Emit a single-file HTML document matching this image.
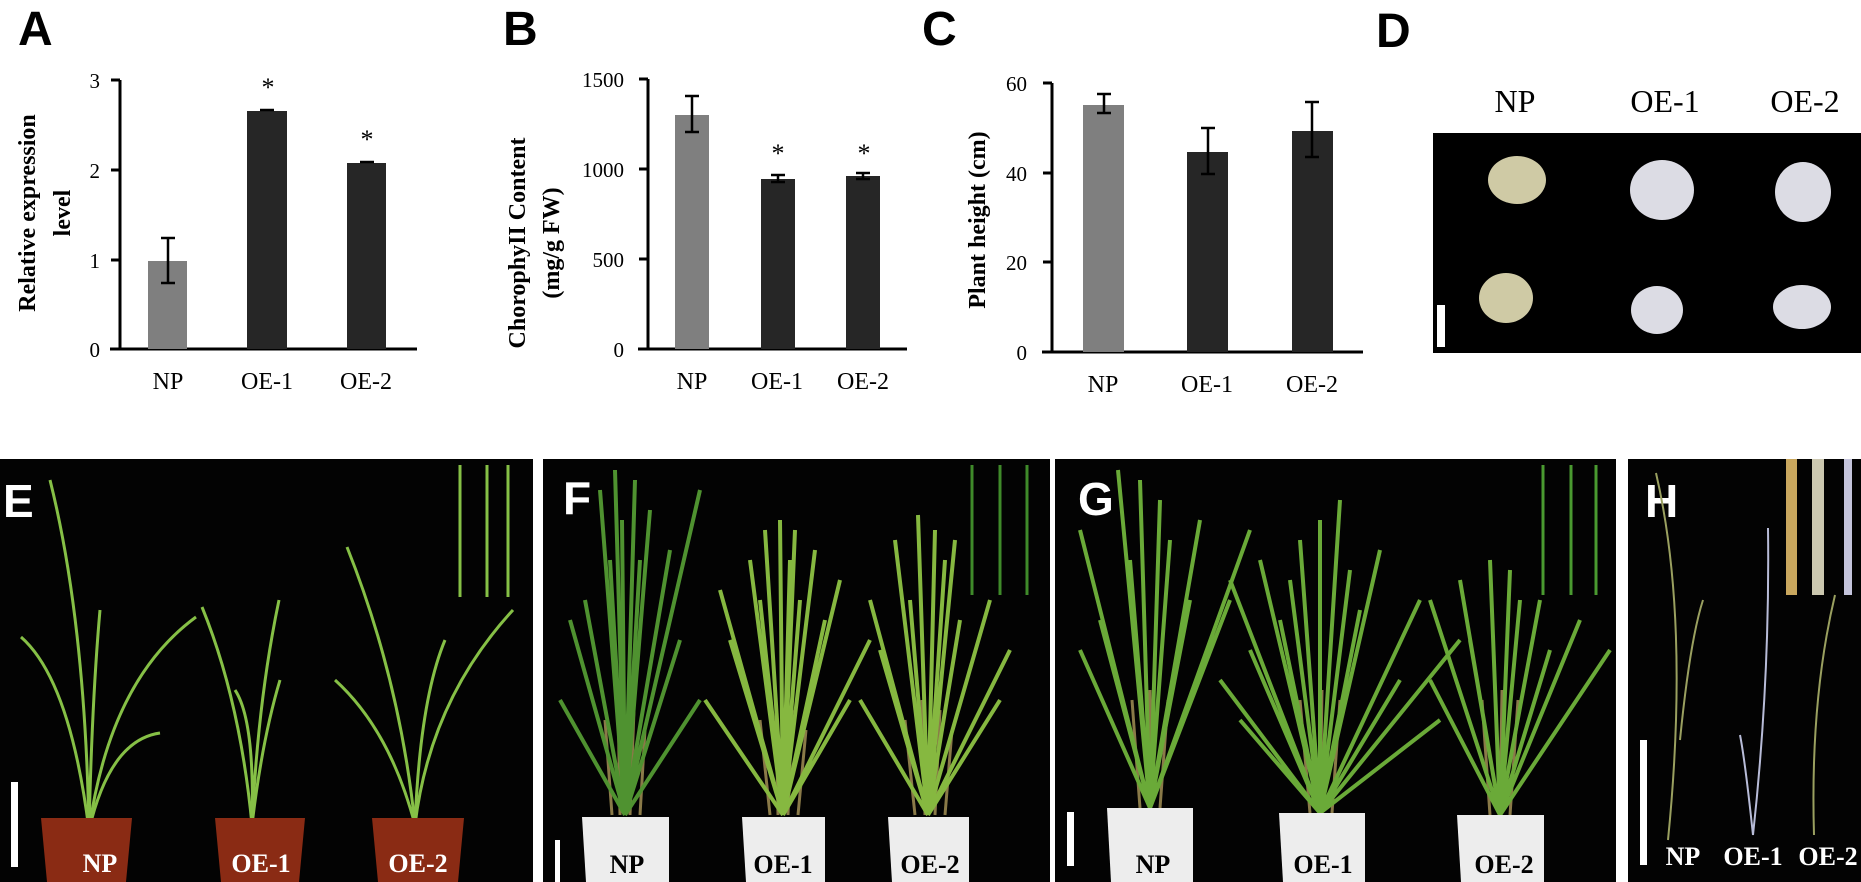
<!DOCTYPE html>
<html><head><meta charset="utf-8"><style>
html,body{margin:0;padding:0;background:#fff;}
svg{display:block;}
text{font-family:"Liberation Serif",serif;}
.L{font-family:"Liberation Sans",sans-serif;font-weight:bold;font-size:48px;}
.PL{font-family:"Liberation Sans",sans-serif;font-weight:bold;font-size:46px;fill:#fff;}
.t{font-size:24px;}
.ax{font-size:21px;font-family:"Liberation Sans",sans-serif;}
.yl{font-size:24px;font-weight:bold;}
.pot{font-size:26px;font-weight:bold;}
</style></head><body>
<svg width="1861" height="882" viewBox="0 0 1861 882" xmlns="http://www.w3.org/2000/svg">
<rect width="1861" height="882" fill="#fff"/>
<text class="L" x="18" y="45">A</text>
<text class="L" x="503" y="45">B</text>
<text class="L" x="922" y="45">C</text>
<text class="L" x="1376" y="47">D</text>

<!-- Chart A -->
<g stroke="#000" stroke-width="3" fill="none">
<line x1="120" y1="80" x2="120" y2="350"/><line x1="110" y1="349" x2="417" y2="349"/>
<line x1="111" y1="80" x2="120" y2="80"/><line x1="111" y1="170" x2="120" y2="170"/><line x1="111" y1="260" x2="120" y2="260"/>
</g>
<g class="ax" text-anchor="end"><text x="100" y="88">3</text><text x="100" y="178">2</text><text x="100" y="268">1</text><text x="100" y="357">0</text></g>
<rect x="148" y="261" width="39" height="88" fill="#7f7f7f"/>
<rect x="247" y="111" width="40" height="238" fill="#262626"/>
<rect x="347" y="163" width="39" height="186" fill="#262626"/>
<g stroke="#000" stroke-width="2.5"><line x1="168" y1="238" x2="168" y2="283"/><line x1="161" y1="238" x2="175" y2="238"/><line x1="161" y1="283" x2="175" y2="283"/>
<line x1="260" y1="110" x2="274" y2="110"/><line x1="360" y1="162" x2="374" y2="162"/></g>
<text x="268" y="96" font-size="26" text-anchor="middle">*</text>
<text x="367" y="148" font-size="26" text-anchor="middle">*</text>
<g class="t" text-anchor="middle"><text x="168" y="389">NP</text><text x="267" y="389">OE-1</text><text x="366" y="389">OE-2</text></g>
<text class="yl" transform="translate(35,213) rotate(-90)" text-anchor="middle">Relative expression</text>
<text class="yl" transform="translate(70,213) rotate(-90)" text-anchor="middle">level</text>

<!-- Chart B -->
<g stroke="#000" stroke-width="3" fill="none">
<line x1="648" y1="79" x2="648" y2="350"/><line x1="638" y1="349" x2="907" y2="349"/>
<line x1="639" y1="79" x2="648" y2="79"/><line x1="639" y1="169" x2="648" y2="169"/><line x1="639" y1="259" x2="648" y2="259"/>
</g>
<g class="ax" text-anchor="end"><text x="624" y="87">1500</text><text x="624" y="177">1000</text><text x="624" y="267">500</text><text x="624" y="357">0</text></g>
<rect x="675" y="115" width="34" height="234" fill="#7f7f7f"/>
<rect x="761" y="179" width="34" height="170" fill="#262626"/>
<rect x="846" y="176" width="34" height="173" fill="#262626"/>
<g stroke="#000" stroke-width="2.5"><line x1="692" y1="96" x2="692" y2="132"/><line x1="685" y1="96" x2="699" y2="96"/><line x1="685" y1="132" x2="699" y2="132"/>
<line x1="778" y1="175" x2="778" y2="182"/><line x1="771" y1="175" x2="785" y2="175"/><line x1="771" y1="182" x2="785" y2="182"/>
<line x1="863" y1="173" x2="863" y2="179"/><line x1="856" y1="173" x2="870" y2="173"/><line x1="856" y1="179" x2="870" y2="179"/></g>
<text x="778" y="162" font-size="26" text-anchor="middle">*</text>
<text x="864" y="162" font-size="26" text-anchor="middle">*</text>
<g class="t" text-anchor="middle"><text x="692" y="389">NP</text><text x="777" y="389">OE-1</text><text x="863" y="389">OE-2</text></g>
<text class="yl" transform="translate(525,243) rotate(-90)" text-anchor="middle">ChorophyII Content</text>
<text class="yl" transform="translate(559,243) rotate(-90)" text-anchor="middle">(mg/g FW)</text>

<!-- Chart C -->
<g stroke="#000" stroke-width="3" fill="none">
<line x1="1052" y1="83" x2="1052" y2="353"/><line x1="1042" y1="352" x2="1363" y2="352"/>
<line x1="1043" y1="83" x2="1052" y2="83"/><line x1="1043" y1="173" x2="1052" y2="173"/><line x1="1043" y1="262" x2="1052" y2="262"/>
</g>
<g class="ax" text-anchor="end"><text x="1027" y="91">60</text><text x="1027" y="181">40</text><text x="1027" y="270">20</text><text x="1027" y="360">0</text></g>
<rect x="1083" y="105" width="41" height="247" fill="#7f7f7f"/>
<rect x="1187" y="152" width="41" height="200" fill="#262626"/>
<rect x="1292" y="131" width="41" height="221" fill="#262626"/>
<g stroke="#000" stroke-width="2.5"><line x1="1104" y1="94" x2="1104" y2="113"/><line x1="1097" y1="94" x2="1111" y2="94"/><line x1="1097" y1="113" x2="1111" y2="113"/>
<line x1="1208" y1="128" x2="1208" y2="174"/><line x1="1201" y1="128" x2="1215" y2="128"/><line x1="1201" y1="174" x2="1215" y2="174"/>
<line x1="1312" y1="102" x2="1312" y2="157"/><line x1="1305" y1="102" x2="1319" y2="102"/><line x1="1305" y1="157" x2="1319" y2="157"/></g>
<g class="t" text-anchor="middle"><text x="1103" y="392">NP</text><text x="1207" y="392">OE-1</text><text x="1312" y="392">OE-2</text></g>
<text class="yl" transform="translate(985,220) rotate(-90)" text-anchor="middle">Plant height (cm)</text>

<!-- Panel D -->
<g font-size="32" text-anchor="middle"><text x="1515" y="112">NP</text><text x="1665" y="112">OE-1</text><text x="1805" y="112">OE-2</text></g>
<rect x="1433" y="133" width="428" height="220" fill="#000"/>
<g fill="#cfcaa5"><ellipse cx="1517" cy="180" rx="29" ry="24"/><ellipse cx="1506" cy="298" rx="27" ry="25"/></g>
<g fill="#dcdce4"><ellipse cx="1662" cy="190" rx="32" ry="30"/><ellipse cx="1657" cy="310" rx="26" ry="24"/><ellipse cx="1803" cy="192" rx="28" ry="30"/><ellipse cx="1802" cy="307" rx="29" ry="22"/></g>
<rect x="1437" y="305" width="8" height="42" fill="#fff"/>

<!-- Panel E -->
<rect x="0" y="459" width="533" height="423" fill="#030303"/>
<text class="PL" x="3" y="517">E</text>
<g stroke="#86c046" stroke-width="3" fill="none">
<path d="M460 465 V597 M487 465 V597 M508 465 V597"/>
<path d="M89 830 Q85 620 50 480"/><path d="M89 830 Q92 700 100 610"/><path d="M89 830 Q110 680 196 617"/><path d="M89 830 Q70 680 21 637"/><path d="M89 830 Q110 740 160 733"/>
<path d="M252 825 Q240 700 202 607"/><path d="M252 825 Q258 700 279 600"/><path d="M252 825 Q255 720 235 690"/><path d="M252 825 Q262 740 280 680"/>
<path d="M415 825 Q400 680 347 547"/><path d="M415 825 Q430 700 513 610"/><path d="M415 825 Q390 730 335 680"/><path d="M415 825 Q420 700 445 640"/>
</g>
<g fill="#8a2b14"><path d="M41 818 H132 L126 882 H47Z"/><path d="M215 818 H305 L299 882 H221Z"/><path d="M372 818 H464 L458 882 H378Z"/></g>
<g class="pot" fill="#fff" text-anchor="middle"><text x="100" y="872">NP</text><text x="261" y="872">OE-1</text><text x="418" y="872">OE-2</text></g>
<rect x="11" y="782" width="7" height="85" fill="#fff"/>

<!-- Panel F -->
<rect x="543" y="459" width="507" height="423" fill="#030303"/>
<text class="PL" x="563" y="514">F</text>
<g stroke="#3f8a2a" stroke-width="3" fill="none"><path d="M972 465 V595 M1000 465 V595 M1027 465 V595"/></g>
<g stroke="#8a7a48" stroke-width="3" fill="none">
<path d="M612 815 L605 720 M620 815 L618 700 M630 815 L634 710 M640 815 L645 730"/>
<path d="M770 815 L760 720 M778 815 L776 700 M788 815 L792 710 M798 815 L806 730"/>
<path d="M915 815 L905 720 M925 815 L922 700 M935 815 L940 710 M945 815 L952 730"/>
</g>
<g stroke="#4f9230" stroke-width="4" fill="none">
<path d="M625 815 L585 600 M625 815 L600 490 M625 815 L615 470 M625 815 L635 480 M625 815 L650 510 M625 815 L700 490 M625 815 L670 550 M625 815 L570 620 M625 815 L680 640 M625 815 L610 560 M625 815 L640 560 M625 815 L560 700 M625 815 L700 700 M625 815 L622 520"/>
</g>
<g stroke="#86b840" stroke-width="4" fill="none">
<path d="M783 815 L720 590 M783 815 L750 560 M783 815 L765 530 M783 815 L780 520 M783 815 L795 530 M783 815 L815 550 M783 815 L840 580 M783 815 L870 640 M783 815 L705 700 M783 815 L760 600 M783 815 L800 600 M783 815 L850 700 M783 815 L730 640 M783 815 L825 620 M783 815 L790 560"/>
<path d="M928 815 L870 600 M928 815 L895 540 M928 815 L918 515 M928 815 L935 530 M928 815 L955 540 M928 815 L990 600 M928 815 L1010 650 M928 815 L860 700 M928 815 L910 600 M928 815 L960 620 M928 815 L945 560 M928 815 L1000 700 M928 815 L880 650"/>
</g>
<g fill="#ededed"><path d="M582 817 H669 V882 H586Z"/><path d="M742 817 H825 V882 H746Z"/><path d="M888 817 H969 V882 H892Z"/></g>
<g class="pot" text-anchor="middle"><text x="627" y="873">NP</text><text x="783" y="873">OE-1</text><text x="930" y="873">OE-2</text></g>
<rect x="555" y="840" width="5" height="42" fill="#fff"/>

<!-- Panel G -->
<rect x="1055" y="459" width="561" height="423" fill="#030303"/>
<text class="PL" x="1078" y="515">G</text>
<g stroke="#4a9a30" stroke-width="3" fill="none"><path d="M1543 465 V595 M1571 465 V595 M1596 465 V595"/></g>
<g stroke="#8a7a48" stroke-width="3" fill="none">
<path d="M1140 808 L1132 700 M1150 808 L1150 690 M1160 808 L1168 700"/>
<path d="M1310 813 L1300 700 M1320 813 L1322 690 M1332 813 L1340 700"/>
<path d="M1490 815 L1482 700 M1500 815 L1502 690 M1510 815 L1518 700"/>
</g>
<g stroke="#6aaa38" stroke-width="4" fill="none">
<path d="M1150 808 L1080 530 M1150 808 L1118 470 M1150 808 L1140 480 M1150 808 L1160 500 M1150 808 L1200 520 M1150 808 L1250 530 M1150 808 L1100 620 M1150 808 L1190 600 M1150 808 L1130 560 M1150 808 L1230 600 M1150 808 L1080 650 M1150 808 L1170 540"/>
<path d="M1320 813 L1230 580 M1320 813 L1260 560 M1320 813 L1300 540 M1320 813 L1320 520 M1320 813 L1340 500 M1320 813 L1380 550 M1320 813 L1420 600 M1320 813 L1460 640 M1320 813 L1220 680 M1320 813 L1280 620 M1320 813 L1360 610 M1320 813 L1250 650 M1320 813 L1400 680 M1320 813 L1440 720 M1320 813 L1290 580 M1320 813 L1350 570 M1320 813 L1240 720"/>
<path d="M1500 815 L1430 600 M1500 815 L1460 580 M1500 815 L1490 560 M1500 815 L1510 570 M1500 815 L1540 600 M1500 815 L1580 620 M1500 815 L1610 650 M1500 815 L1430 680 M1500 815 L1470 640 M1500 815 L1550 650 M1500 815 L1520 600"/>
</g>
<g fill="#ededed"><path d="M1107 808 H1193 V882 H1111Z"/><path d="M1279 813 H1365 V882 H1283Z"/><path d="M1457 815 H1544 V882 H1461Z"/></g>
<g class="pot" text-anchor="middle"><text x="1153" y="873">NP</text><text x="1323" y="873">OE-1</text><text x="1504" y="873">OE-2</text></g>
<rect x="1067" y="812" width="7" height="54" fill="#fff"/>

<!-- Panel H -->
<rect x="1628" y="459" width="233" height="423" fill="#030303"/>
<text class="PL" x="1645" y="517">H</text>
<rect x="1786" y="459" width="11" height="136" fill="#c9a75e"/>
<rect x="1812" y="459" width="12" height="136" fill="#ccc8b0"/>
<rect x="1844" y="459" width="8" height="136" fill="#c4c4dc"/>
<g stroke="#9aa060" stroke-width="2" fill="none">
<path d="M1668 840 Q1690 620 1656 473"/><path d="M1680 740 Q1690 640 1703 600"/>
<path d="M1814 835 Q1810 700 1835 595"/>
</g>
<g stroke="#b8bcd8" stroke-width="2" fill="none"><path d="M1753 835 Q1770 680 1768 528"/><path d="M1753 835 Q1745 760 1740 735"/></g>
<g class="pot" fill="#fff" text-anchor="middle" font-size="24"><text x="1683" y="865">NP</text><text x="1753" y="865">OE-1</text><text x="1828" y="865">OE-2</text></g>
<rect x="1640" y="740" width="7" height="125" fill="#fff"/>
</svg>
</body></html>
